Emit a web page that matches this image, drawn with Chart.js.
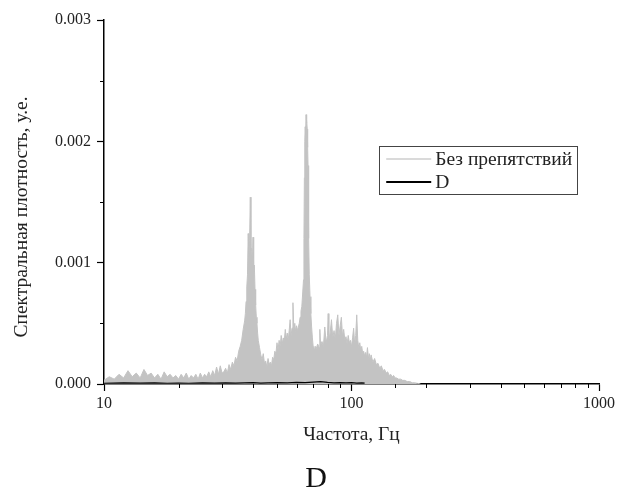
<!DOCTYPE html>
<html>
<head>
<meta charset="utf-8">
<script src="https://cdn.jsdelivr.net/npm/chart.js@4.4.1/dist/chart.umd.min.js"></script>
<style>
  html, body { margin: 0; padding: 0; background: #fff; }
  #wrap { width: 626px; height: 496px; position: relative; }
</style>
</head>
<body>
<div id="wrap"><canvas id="c" width="626" height="496"></canvas></div>
<script>
// ---- data ----
const seriesNames = ["Без препятствий", "D"];
const xTitle = "Частота, Гц";
const yTitle = "Спектральная плотность, у.е.";
const chartTitle = "D";
const xTickLabels = [10, 100, 1000];
const yTickLabels = [0, 0.001, 0.002, 0.003];

const freqClear = [
  10,10.5,11,11.5,12,12.5,13,13.5,14,14.5,15,15.5,16,16.5,17,17.5,18,18.5,19,19.5,
  20,20.5,21,21.5,22,22.5,23,23.5,24,24.5,25,25.5,26,26.5,27,27.5,28,28.5,29,29.5,
  30,30.5,31,31.5,32,32.5,33,33.5,34,34.5,35,35.5,36,36.5,
  37,37.25,37.5,37.75,38,38.25,38.5,38.75,39,39.25,39.5,39.75,40,40.25,40.5,40.75,
  41,41.25,41.5,41.75,42,42.5,43,43.5,44,44.5,45,45.5,46,46.5,47,47.5,48,48.5,49,49.5,
  50,50.5,51,51.5,52,52.5,53,53.5,54,54.5,55,55.5,56,56.5,57,57.5,58,58.5,59,59.5,
  60,60.5,61,61.5,62,62.5,63,63.5,64,64.25,64.5,64.75,65,65.25,65.5,65.75,66,66.25,
  66.5,66.75,67,67.25,67.5,68,68.5,69,69.5,70,70.5,71,71.5,72,
  73,74,74.5,75,76,77,78,79,80,80.5,81,82,83,84,85,86,87,88,89,90,
  91,92,93,94,95,96,97,98,99,100,101,102,103,104,105,106,107,108,109,110,
  111,112,113,114,115,116,117,118,119,120,122,124,126,128,130,132,134,136,138,140,
  142,144,146,148,150,152,155,158,161,164,168,172,176,180,185,190
];
const psdClear = [
  0.00003,0.00006,0.00004,0.00008,0.00005,0.00011,0.00006,0.00009,0.00005,0.00012,
  0.00007,0.00009,0.00005,0.00008,0.00004,0.00010,0.00006,0.00008,0.00005,0.00007,
  0.00004,0.00008,0.00005,0.00009,0.00004,0.00007,0.00005,0.00008,0.00004,0.00009,
  0.00005,0.00008,0.00006,0.00010,0.00006,0.00011,0.00007,0.00014,0.00008,0.00015,
  0.00009,0.00010,0.00013,0.00009,0.00016,0.00012,0.00018,0.00015,0.00022,0.00019,
  0.00027,0.00031,0.00036,0.00045,
  0.00052,0.00058,0.00068,0.00080,0.00090,0.00124,0.00105,0.00118,0.00154,0.00110,
  0.00112,0.00100,0.00121,0.00095,0.00098,0.00078,
  0.00065,0.00055,0.00050,0.00042,0.00036,0.00030,0.00024,0.00020,0.00025,0.00017,
  0.00019,0.00014,0.00021,0.00016,0.00018,0.00015,0.00022,0.00020,0.00027,0.00025,
  0.00034,0.00028,0.00036,0.00031,0.00040,0.00033,0.00038,0.00035,0.00045,0.00037,
  0.00042,0.00036,0.00044,0.00053,0.00040,0.00046,0.00067,0.00045,0.00050,0.00043,
  0.00048,0.00044,0.00047,0.00050,0.00055,0.00060,0.00064,0.00075,0.00086,0.00120,
  0.00170,0.00200,0.00212,0.00205,0.00222,0.00215,0.00218,0.00210,
  0.00195,0.00180,0.00150,0.00120,0.00090,0.00072,0.00058,0.00047,0.00038,0.00031,
  0.00030,0.00028,0.00031,0.00029,
  0.00033,0.00030,0.00045,0.00032,0.00035,0.00031,0.00047,0.00034,0.00040,0.00058,
  0.00036,0.00042,0.00053,0.00038,0.00044,0.00037,0.00050,0.00057,0.00040,0.00048,
  0.00055,0.00039,0.00045,0.00036,0.00039,0.00033,0.00040,0.00034,0.00036,0.00031,
  0.00038,0.00046,0.00033,0.00040,0.00057,0.00036,0.00030,0.00034,0.00028,0.00031,
  0.00025,0.00027,0.00023,0.00026,0.00022,0.00030,0.00021,0.00025,0.00020,0.00024,
  0.00018,0.00021,0.00016,0.00017,0.00013,0.00015,0.00011,0.00012,0.00009,0.00010,
  0.00007,0.00008,0.00006,0.00007,0.00005,0.00005,0.00004,0.00004,0.00003,0.00003,
  0.00002,0.00002,0.00001,0.00001,0.000005,0
];

const freqD = [10,12,14,16,18,20,22,25,28,31,34,37,40,43,46,50,55,60,65,70,75,80,85,90,95,100,105,110,113];
const psdD = [
  0.000006,0.000009,0.000007,0.000010,0.000006,0.000008,0.000006,0.000009,0.000007,0.000010,
  0.000007,0.000009,0.000011,0.000008,0.000010,0.000012,0.000010,0.000013,0.000011,0.000015,
  0.000020,0.000013,0.000010,0.000012,0.000009,0.000011,0.000008,0.000010,0.000007
];

// ---- styles ----
const FONT = "'Liberation Serif', 'Times New Roman', serif";
const TEXT = "#222";
const GRAY = "#c3c3c3";

const clearPts = freqClear.map((f, i) => ({ x: f, y: psdClear[i] }));
const dPts = freqD.map((f, i) => ({ x: f, y: psdD[i] }));

function isDecade(v) { const l = Math.log10(v); return Math.abs(l - Math.round(l)) < 1e-9; }
function isMilli(v) { return Math.abs(v * 1000 - Math.round(v * 1000)) < 1e-9; }

const minorTicks = {
  id: 'minorTicks',
  afterDraw(chart) {
    const ctx = chart.ctx, xs = chart.scales.x, ys = chart.scales.y;
    ctx.save();
    ctx.strokeStyle = '#000';
    ctx.lineWidth = 1;
    xs.ticks.forEach(t => {
      if (isDecade(t.value)) return;
      const px = Math.round(xs.getPixelForValue(t.value)) + 0.5;
      ctx.beginPath(); ctx.moveTo(px, xs.top); ctx.lineTo(px, xs.top + 4); ctx.stroke();
    });
    ys.ticks.forEach(t => {
      if (isMilli(t.value)) return;
      const py = Math.round(ys.getPixelForValue(t.value)) + 0.5;
      ctx.beginPath(); ctx.moveTo(ys.right, py); ctx.lineTo(ys.right - 4, py); ctx.stroke();
    });
    ctx.restore();
  }
};

// y-axis title (placed slightly below the axis centre, as in the source) and the caption below the chart
const extraText = {
  id: 'extraText',
  afterDraw(chart) {
    const ctx = chart.ctx, a = chart.chartArea;
    ctx.save();
    ctx.fillStyle = TEXT;
    ctx.textAlign = 'center';
    ctx.textBaseline = 'middle';
    ctx.font = "19.5px " + FONT;
    ctx.translate(22, (a.top + a.bottom) / 2 + 15);
    ctx.rotate(-Math.PI / 2);
    ctx.fillText(yTitle, 0, 0);
    ctx.restore();

    ctx.save();
    ctx.fillStyle = '#111';
    ctx.textAlign = 'center';
    ctx.textBaseline = 'middle';
    ctx.font = "30px " + FONT;
    ctx.fillText(chartTitle, 316, 479);
    ctx.restore();
  }
};

const boxLegend = {
  id: 'boxLegend',
  afterDraw(chart) {
    const ctx = chart.ctx, a = chart.chartArea;
    const w = a.right - a.left;
    const x0 = a.left + 0.556 * w, x1 = a.left + 0.956 * w;
    const y0 = 146, y1 = 194;
    ctx.save();
    ctx.fillStyle = '#fff';
    ctx.fillRect(x0, y0, x1 - x0, y1 - y0);
    ctx.strokeStyle = '#444';
    ctx.lineWidth = 1;
    ctx.strokeRect(Math.round(x0) + 0.5, y0 + 0.5, Math.round(x1 - x0), y1 - y0);
    const items = [
      { text: seriesNames[0], color: '#b5b5b5', lw: 1, y: 159 },
      { text: seriesNames[1], color: '#000', lw: 2, y: 182 }
    ];
    ctx.font = "19.5px " + FONT;
    ctx.textBaseline = 'middle';
    items.forEach(it => {
      ctx.strokeStyle = it.color; ctx.lineWidth = it.lw;
      ctx.beginPath(); ctx.moveTo(x0 + 7, it.y); ctx.lineTo(x0 + 52, it.y); ctx.stroke();
      ctx.fillStyle = TEXT;
      ctx.fillText(it.text, x0 + 56, it.y + 1);
    });
    ctx.restore();
  }
};

new Chart(document.getElementById('c'), {
  type: 'line',
  data: {
    datasets: [
      { label: seriesNames[1], data: dPts, borderColor: '#000', borderWidth: 1.2,
        pointRadius: 0, fill: false, tension: 0, order: 0 },
      { label: seriesNames[0], data: clearPts, borderColor: GRAY, backgroundColor: GRAY,
        borderWidth: 1, pointRadius: 0, fill: 'origin', tension: 0, order: 1 }
    ]
  },
  options: {
    responsive: false,
    animation: false,
    layout: { padding: { left: 0, right: 27, top: 20, bottom: 44 } },
    plugins: {
      legend: { display: false },
      tooltip: { enabled: false },
      title: { display: false }
    },
    scales: {
      x: {
        type: 'logarithmic', min: 10, max: 1000,
        afterFit(s) { s.height = 68; },
        border: { display: true, color: '#000', width: 1.5 },
        grid: {
          display: true, drawOnChartArea: false, drawTicks: true, tickLength: 7,
          tickColor: c => (c.tick && isDecade(c.tick.value)) ? '#000' : 'rgba(0,0,0,0)', tickWidth: 1.2
        },
        ticks: {
          autoSkip: false, maxRotation: 0, minRotation: 0, padding: 3, color: TEXT,
          font: { family: FONT, size: 16 },
          callback: v => xTickLabels.includes(Math.round(v)) && isDecade(v) ? String(Math.round(v)) : ''
        },
        title: {
          display: true, text: xTitle, color: TEXT,
          font: { family: FONT, size: 19.5 }, padding: { top: 0, bottom: 5 }
        }
      },
      y: {
        type: 'linear', min: 0, max: 0.003,
        afterFit(s) { s.width = 104; },
        border: { display: true, color: '#000', width: 1.5 },
        grid: {
          display: true, drawOnChartArea: false, drawTicks: true, tickLength: 7,
          tickColor: c => (c.tick && isMilli(c.tick.value)) ? '#000' : 'rgba(0,0,0,0)', tickWidth: 1.2
        },
        ticks: {
          stepSize: 0.0005, padding: 6, color: TEXT,
          font: { family: FONT, size: 16 },
          callback: v => isMilli(v) && yTickLabels.some(t => Math.abs(t - v) < 1e-9) ? v.toFixed(3) : ''
        },
        title: { display: false }
      }
    }
  },
  plugins: [minorTicks, extraText, boxLegend]
});
</script>
</body>
</html>
